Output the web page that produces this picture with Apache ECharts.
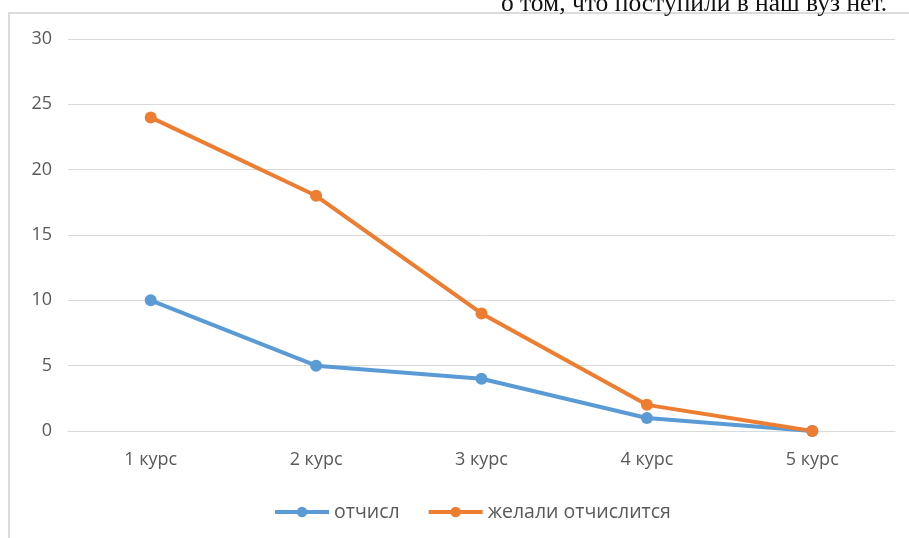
<!DOCTYPE html>
<html>
<head>
<meta charset="utf-8">
<script src="https://cdn.jsdelivr.net/npm/echarts@6/dist/echarts.min.js"></script>
<style>
html,body{margin:0;padding:0;background:#fff;}
#chart{width:909px;height:538px;}
</style>
</head>
<body>
<div id="chart"></div>
<script>
const categories = ['1 курс', '2 курс', '3 курс', '4 курс', '5 курс'];
const otchisl = [10, 5, 4, 1, 0];
const zhelali = [24, 18, 9, 2, 0];
const seriesNames = ['отчисл', 'желали отчислится'];
const topText = 'о том, что поступили в наш вуз нет.';

const chart = echarts.init(document.getElementById('chart'));
const font = 'Open Sans';
chart.setOption({
  animation: false,
  backgroundColor: '#ffffff',
  color: ['#5B9BD5', '#ED7D31'],
  graphic: [
    { type: 'line', shape: { x1: 9, y1: 12, x2: 9, y2: 538 }, style: { stroke: '#d0d0d0', lineWidth: 1.5 } },
    { type: 'line', shape: { x1: 9, y1: 13, x2: 909, y2: 13 }, style: { stroke: '#d0d0d0', lineWidth: 1.5 } },
    { type: 'text', right: 22, top: -9, style: { text: topText, font: '25.5px "Liberation Serif", "DejaVu Serif", serif', fill: '#111' } }
  ],
  grid: { left: 68, right: 14, top: 39, bottom: 107 },
  legend: {
    top: 497,
    left: 268,
    itemWidth: 54,
    itemHeight: 13,
    itemGap: 27,
    lineStyle: { width: 4 },
    textStyle: { color: '#595959', fontSize: 19.5, fontFamily: font },
    data: seriesNames
  },
  xAxis: {
    type: 'category',
    data: categories,
    boundaryGap: true,
    axisLine: { show: true, lineStyle: { color: '#d9d9d9', width: 1 } },
    axisTick: { show: false },
    axisLabel: { color: '#595959', fontSize: 18, fontFamily: font, margin: 20 }
  },
  yAxis: {
    type: 'value',
    min: 0, max: 30, interval: 5,
    axisLine: { show: false },
    axisTick: { show: false },
    axisLabel: { color: '#595959', fontSize: 18, fontFamily: font, margin: 16 },
    splitLine: { lineStyle: { color: '#d9d9d9', width: 1 } }
  },
  series: [
    { name: seriesNames[0], type: 'line', data: otchisl, symbol: 'circle', symbolSize: 12,
      lineStyle: { width: 4 }, itemStyle: { color: '#5B9BD5' } },
    { name: seriesNames[1], type: 'line', data: zhelali, symbol: 'circle', symbolSize: 12,
      lineStyle: { width: 4 }, itemStyle: { color: '#ED7D31' } }
  ]
});
</script>
</body>
</html>
